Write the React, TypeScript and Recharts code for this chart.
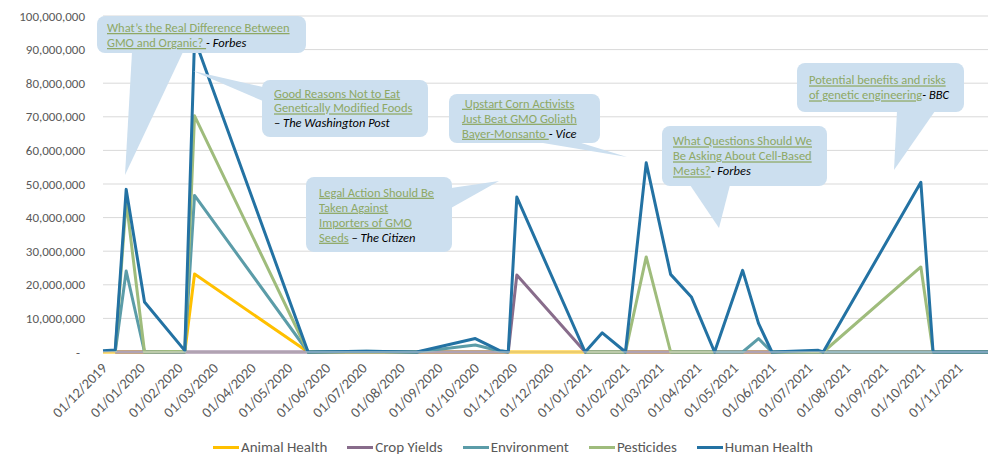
import React from "react";
import { LineChart, Line, XAxis, YAxis, CartesianGrid, Legend } from "recharts";

const dates = [
  "2019-12-01", "2019-12-11", "2019-12-20", "2020-01-04", "2020-02-06", "2020-02-14",
  "2020-05-17", "2020-07-04", "2020-08-14", "2020-10-01", "2020-10-21", "2020-10-28",
  "2020-11-04", "2020-12-30", "2021-01-13", "2021-02-01", "2021-02-18", "2021-03-10",
  "2021-03-27", "2021-04-15", "2021-05-08", "2021-05-21", "2021-06-01", "2021-07-09",
  "2021-07-13", "2021-10-01", "2021-10-11", "2021-11-25",
];

// null = empty cell (gap in the line)
const animalHealth = [
  0, 0, 0, 0, 0, 23200000, 0, 0, 0, 0, 0, 0, 0, 0, 0, 0, 0, 0, 0, 0, 0, 0, 0, 0, 0, 0, 0, 0,
];
const cropYields = [
  null, 0, 0, 0, 0, 0, 0, 0, 0, 0, 0, 0, 22900000, 0, 0, 0, 0, 0, 0, 0, 0, 0, 0, 0, 0, 0, 0, 0,
];
const environment = [
  null, 0, 24100000, 0, 0, 46600000, 0, 200000, 0, 2100000, 300000, 0, null, 0, 0, 0, null, 0,
  0, 0, 0, 4000000, 0, 0, 0, 0, 0, 0,
];
const pesticides = [
  null, 0, 45000000, 0, 200000, 70300000, 0, 0, 0, null, null, 0, null, 0, 0, 0, 28300000, 0,
  0, 0, null, null, 0, 0, 0, 25300000, 0, 0,
];
const humanHealth = [
  400000, 600000, 48400000, 14900000, 400000, 93200000, 0, 200000, 0, 4000000, 400000, 100000,
  46100000, 0, 5700000, 0, 56300000, 23100000, 16400000, 0, 24300000, 8500000, 0, 500000, 0,
  50500000, 0, 0,
];

const monthTicks = [
  "2019-12-01", "2020-01-01", "2020-02-01", "2020-03-01", "2020-04-01", "2020-05-01",
  "2020-06-01", "2020-07-01", "2020-08-01", "2020-09-01", "2020-10-01", "2020-11-01",
  "2020-12-01", "2021-01-01", "2021-02-01", "2021-03-01", "2021-04-01", "2021-05-01",
  "2021-06-01", "2021-07-01", "2021-08-01", "2021-09-01", "2021-10-01", "2021-11-01",
];
const yTicks = [0, 10000000, 20000000, 30000000, 40000000, 50000000, 60000000, 70000000, 80000000, 90000000, 100000000];

const FONT = "Calibri, Carlito, Lato, sans-serif";
const GREY = "#595959";
const CALLOUT_FILL = "#CCDFEF";
const LINK = "#8EA865";

const series = [
  { key: "animal", name: "Animal Health", color: "#FFC000", values: animalHealth },
  { key: "crop", name: "Crop Yields", color: "#886C8B", values: cropYields },
  { key: "env", name: "Environment", color: "#5B9CA8", values: environment },
  { key: "pest", name: "Pesticides", color: "#9FBC7C", values: pesticides },
  { key: "human", name: "Human Health", color: "#2372A3", values: humanHealth },
];

const toTime = (iso: string) => new Date(iso + "T00:00:00Z").getTime();

const data = dates.map((d, i) => {
  const row: Record<string, number | null> = { t: toTime(d) };
  series.forEach((s) => {
    row[s.key] = s.values[i];
  });
  return row;
});

const fmtDate = (t: number) => {
  const d = new Date(t);
  const dd = String(d.getUTCDate()).padStart(2, "0");
  const mm = String(d.getUTCMonth() + 1).padStart(2, "0");
  return `${dd}/${mm}/${d.getUTCFullYear()}`;
};

// callout annotations (layout only)
type Seg = { t: string; link?: boolean };
const callouts: {
  box: [number, number, number, number];
  wedge: [number, number][];
  textX: number;
  baselines: number[];
  lines: Seg[][];
}[] = [
  {
    box: [97, 16, 209, 37],
    wedge: [[132, 52], [125, 175], [183, 52]],
    textX: 107,
    baselines: [32, 47],
    lines: [
      [{ t: "What’s the Real Difference Between", link: true }],
      [{ t: "GMO and Organic? ", link: true }, { t: "- Forbes" }],
    ],
  },
  {
    box: [262, 80, 166, 57],
    wedge: [[263, 87], [193, 71], [263, 101]],
    textX: 274,
    baselines: [97.7, 112.4, 127],
    lines: [
      [{ t: "Good Reasons Not to Eat", link: true }],
      [{ t: "Genetically Modified Foods", link: true }],
      [{ t: "– The Washington Post" }],
    ],
  },
  {
    box: [449, 94, 151, 49],
    wedge: [[537, 142], [627, 157], [578, 142]],
    textX: 462,
    baselines: [107.7, 122.7, 137.7],
    lines: [
      [{ t: " Upstart Corn Activists", link: true }],
      [{ t: "Just Beat GMO Goliath", link: true }],
      [{ t: "Bayer-Monsanto ", link: true }, { t: "- Vice" }],
    ],
  },
  {
    box: [306, 177, 146, 75],
    wedge: [[451, 188], [499, 181], [451, 208]],
    textX: 319,
    baselines: [196.7, 211.7, 226.7, 241.7],
    lines: [
      [{ t: "Legal Action Should Be", link: true }],
      [{ t: "Taken Against", link: true }],
      [{ t: "Importers of GMO", link: true }],
      [{ t: "Seeds", link: true }, { t: " – The Citizen" }],
    ],
  },
  {
    box: [662, 126, 165, 60],
    wedge: [[690, 185], [719, 228], [730, 185]],
    textX: 673,
    baselines: [145.4, 160.4, 175.4],
    lines: [
      [{ t: "What Questions Should We", link: true }],
      [{ t: "Be Asking About Cell-Based", link: true }],
      [{ t: "Meats?", link: true }, { t: "- Forbes" }],
    ],
  },
  {
    box: [797, 63, 167, 49],
    wedge: [[897, 111], [894, 170], [935, 111]],
    textX: 809,
    baselines: [84.4, 99.4],
    lines: [
      [{ t: "Potential benefits and risks", link: true }],
      [{ t: "of genetic engineering", link: true }, { t: "- BBC" }],
    ],
  },
];

const YTick = (props: any) => {
  const { y, payload } = props;
  const v = payload.value as number;
  return (
    <text
      x={v === 0 ? 80 : 85}
      y={y}
      dy="0.35em"
      textAnchor="end"
      fill={GREY}
      fontSize={13}
      fontFamily={FONT}
    >
      {v === 0 ? "-" : v.toLocaleString("en-US")}
    </text>
  );
};

const XTick = (props: any) => {
  const { x, y, payload } = props;
  return (
    <g transform={`translate(${x + 5},${y + 17})`}>
      <text textAnchor="end" transform="rotate(-45)" fill={GREY} fontSize={14.5} fontFamily={FONT}>
        {fmtDate(payload.value)}
      </text>
    </g>
  );
};

const renderLegend = () => (
  <div
    style={{
      display: "flex",
      alignItems: "center",
      height: 22,
      paddingLeft: 213,
      fontFamily: FONT,
      fontSize: 15,
      color: GREY,
    }}
  >
    {series.map((s) => (
      <div key={s.key} style={{ display: "flex", alignItems: "center", marginRight: 20 }}>
        <span style={{ display: "inline-block", width: 26, height: 3, background: s.color, marginRight: 2 }} />
        <span>{s.name}</span>
      </div>
    ))}
  </div>
);

export default function App() {
  return (
    <div style={{ position: "absolute", left: 0, top: 0, width: 988, height: 458, background: "#fff" }}>
      <LineChart width={988} height={458} data={data} margin={{ top: 16, right: 0, bottom: 0, left: 0 }}>
        <CartesianGrid vertical={false} stroke="#D9D9D9" strokeWidth={1} />
        <XAxis
          dataKey="t"
          type="number"
          domain={["dataMin", "dataMax"]}
          ticks={monthTicks.map(toTime)}
          tick={<XTick />}
          tickLine={false}
          tickSize={0}
          tickMargin={0}
          axisLine={{ stroke: "#D9D9D9" }}
          height={84}
          interval={0}
        />
        <YAxis
          domain={[0, 100000000]}
          ticks={yTicks}
          tick={<YTick />}
          tickLine={false}
          axisLine={false}
          width={103}
          interval={0}
        />
        <Legend
          verticalAlign="bottom"
          content={renderLegend}
          wrapperStyle={{ left: 0, width: 988, height: 22 }}
        />
        {series.map((s) => (
          <Line
            key={s.key}
            type="linear"
            dataKey={s.key}
            name={s.name}
            stroke={s.color}
            strokeWidth={3}
            strokeLinejoin="round"
            dot={false}
            activeDot={false}
            connectNulls={false}
            isAnimationActive={false}
          />
        ))}
      </LineChart>
      <svg
        width={988}
        height={458}
        style={{ position: "absolute", left: 0, top: 0, pointerEvents: "none" }}
      >
        {callouts.map((c, i) => (
          <g key={i}>
            <polygon points={c.wedge.map((p) => p.join(",")).join(" ")} fill={CALLOUT_FILL} />
            <rect x={c.box[0]} y={c.box[1]} width={c.box[2]} height={c.box[3]} rx={8} fill={CALLOUT_FILL} />
            {c.lines.map((line, j) => (
              <text
                key={j}
                x={c.textX}
                y={c.baselines[j]}
                fontFamily={FONT}
                fontSize={12.5}
                style={{ whiteSpace: "pre" }}
              >
                {line.map((seg, k) =>
                  seg.link ? (
                    <tspan key={k} fill={LINK} textDecoration="underline">
                      {seg.t}
                    </tspan>
                  ) : (
                    <tspan key={k} fill="#000" fontStyle="italic">
                      {seg.t}
                    </tspan>
                  )
                )}
              </text>
            ))}
          </g>
        ))}
      </svg>
    </div>
  );
}
